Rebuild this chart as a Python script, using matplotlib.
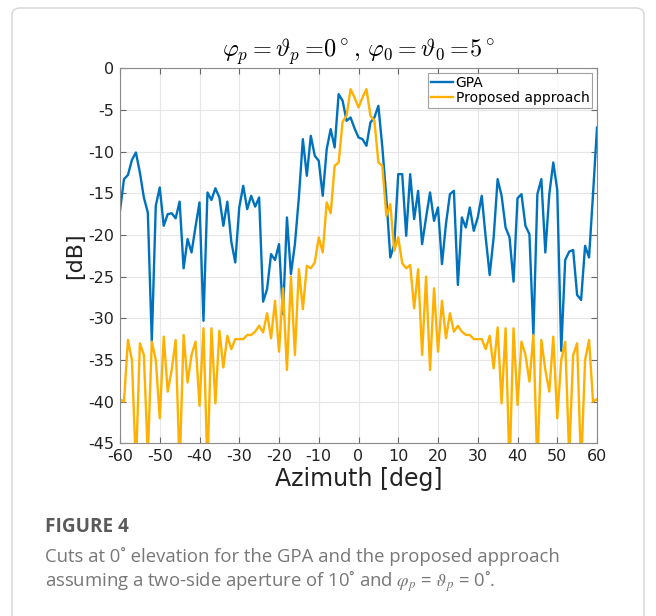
import matplotlib
matplotlib.use('Agg')
import matplotlib.pyplot as plt
import numpy as np
from matplotlib.patches import FancyBboxPatch

plt.rcParams['axes.unicode_minus'] = False

azimuth = np.arange(-60, 61, 1)

gpa_db = [
    -17.1, -13.3, -12.8, -11.0, -10.1, -12.5, -15.5, -17.3, -32.8, -16.5,
    -14.3, -18.9, -17.5, -17.4, -18.0, -16.0, -24.0, -20.5, -22.1, -19.0,
    -16.1, -30.3, -14.9, -15.8, -14.4, -15.5, -18.9, -16.0, -20.8, -23.3,
    -16.7, -14.1, -16.9, -15.3, -16.6, -15.5, -28.0, -26.5, -22.3, -23.0,
    -21.1, -29.5, -17.9, -24.7, -21.1, -15.5, -8.5, -12.9, -8.1, -10.5,
    -11.1, -15.3, -9.7, -7.3, -9.5, -3.1, -3.9, -6.3, -5.9, -7.2,
    -8.3,
    -8.5, -9.3, -6.5, -5.9, -4.5, -9.5, -15.5, -22.7, -21.1, -12.7,
    -12.7, -20.1, -12.7, -18.1, -14.7, -21.1, -17.9, -14.9, -18.3, -16.7,
    -23.5, -18.7, -15.1, -14.7, -26.0, -17.9, -19.1, -16.7, -19.5, -17.9,
    -15.3, -20.3, -24.8, -20.3, -13.3, -15.3, -19.1, -20.3, -25.6, -15.6,
    -15.1, -18.9, -19.9, -32.0, -15.1, -13.3, -22.1, -15.1, -11.3, -14.6,
    -33.9, -23.0, -22.0, -21.8, -27.2, -27.8, -21.3, -22.7, -15.1, -7.1,
]

proposed_db = [
    -39.7, -40.0, -32.6, -35.0, -48.0, -33.0, -34.4, -46.5, -32.8, -35.0,
    -42.0, -32.2, -38.8, -36.2, -32.6, -48.0, -32.0, -37.7, -34.4, -32.8,
    -40.5, -31.2, -48.0, -31.2, -40.2, -31.5, -35.9, -32.1, -33.7, -32.5,
    -32.5, -32.5, -32.0, -32.0, -31.6, -30.9, -31.7, -29.4, -32.4, -27.9,
    -34.0, -26.4, -36.2, -25.0, -34.4, -24.1, -28.9, -23.7, -24.0, -23.3,
    -20.3, -22.1, -16.1, -17.4, -11.7, -11.3, -6.4, -5.7, -2.5, -3.5,
    -4.7,
    -3.5, -2.5, -5.7, -6.3, -11.3, -11.7, -17.7, -16.3, -21.9, -20.3,
    -23.4, -24.0, -23.6, -28.8, -24.1, -34.4, -25.0, -36.2, -26.4, -34.0,
    -27.9, -32.4, -29.4, -31.6, -30.9, -31.6, -32.0, -32.0, -32.5, -32.5,
    -32.5, -33.7, -32.1, -36.0, -31.1, -40.2, -31.2, -48.0, -31.2, -40.4,
    -32.8, -34.4, -37.6, -32.0, -48.0, -32.6, -36.2, -38.8, -32.2, -42.0,
    -35.0, -32.8, -46.5, -34.4, -33.0, -48.0, -35.0, -32.6, -40.0, -39.7,
]

xticks = np.arange(-60, 61, 10)
yticks = np.arange(-45, 1, 5)

fig = plt.figure(figsize=(6.56, 6.16), dpi=100)

# outer frame
frame = FancyBboxPatch((12 / 656, -0.05), 632 / 656, 1.0 - 8 / 616 + 0.05,
                       boxstyle='round,pad=0,rounding_size=0.012',
                       transform=fig.transFigure, facecolor='none',
                       edgecolor='#d4d4d4', linewidth=1.0)
fig.patches.append(frame)

ax = fig.add_axes([120 / 656, 1 - 443.3 / 616, 477 / 656, 375 / 616])

ax.plot(azimuth, gpa_db, color='#0072BD', linewidth=1.7, label='GPA')
ax.plot(azimuth, proposed_db, color='#FFB000', linewidth=1.7, label='Proposed approach')

ax.set_xlim(-60, 60)
ax.set_ylim(-45, 0)
ax.set_xticks(xticks)
ax.set_yticks(yticks)
ax.set_xticklabels([str(v) for v in xticks])
ax.set_yticklabels([str(v) for v in yticks])
ax.tick_params(direction='in', length=4, width=0.8, color='#666666',
               labelsize=11.5, labelcolor='#222222', top=True, right=True, pad=4)
ax.grid(True, color='#e6e6e6', linewidth=0.8)
ax.set_axisbelow(True)
for s in ax.spines.values():
    s.set_color('#8a8a8a')
    s.set_linewidth(0.8)

ax.set_xlabel('Azimuth [deg]', fontsize=17, color='#222222', labelpad=2)
ax.set_ylabel('[dB]', fontsize=16, color='#222222', labelpad=2)
ax.set_title(r'$\varphi_p = \vartheta_p = \!0^\circ,\, \varphi_0 = \vartheta_0 = \!5^\circ$',
             fontsize=17.5, math_fontfamily='cm', pad=8)

leg = ax.legend(loc='upper right', fontsize=10, frameon=True, fancybox=False,
                borderpad=0.2, labelspacing=0.1, handlelength=1.6,
                handletextpad=0.2, borderaxespad=0.35)
leg.get_frame().set_edgecolor('#8a8a8a')
leg.get_frame().set_linewidth(0.8)

# caption
cap_font = ['Open Sans', 'DejaVu Sans']
fig.text(45 / 656, 1 - 527 / 616, 'FIGURE 4', fontsize=13.6, fontweight='bold',
         color='#5a5a5a', family=cap_font, va='center')
fig.text(45 / 656, 1 - 556 / 616,
         'Cuts at 0˚ elevation for the GPA and the proposed approach',
         fontsize=13.3, color='#777777', family=cap_font, va='center')
fig.text(45 / 656, 1 - 581 / 616,
         r'assuming a two-side aperture of 10˚ and $\varphi_p$ = $\vartheta_p$ = 0˚.',
         fontsize=13.3, color='#777777', family=cap_font,
         math_fontfamily='stix', va='center')

fig.savefig('out.png', dpi=100)
